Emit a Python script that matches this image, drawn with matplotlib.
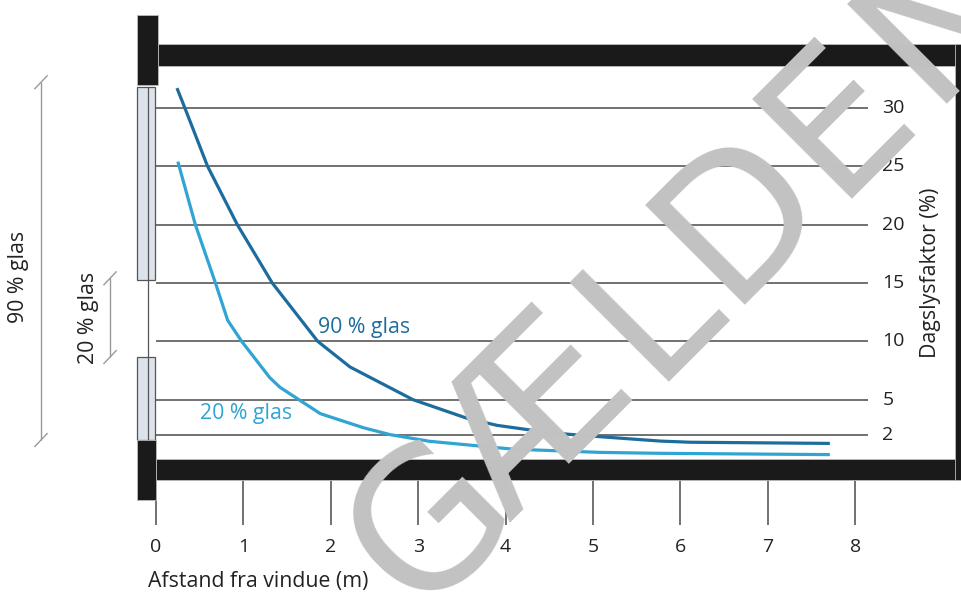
import matplotlib
matplotlib.use("Agg")
import matplotlib.pyplot as plt
from matplotlib.patches import Rectangle

plt.rcParams["font.family"] = ["Open Sans", "DejaVu Sans"]

# ---- data ------------------------------------------------------------------------
X_TICKS = [0, 1, 2, 3, 4, 5, 6, 7, 8]
Y_TICKS = [2, 5, 10, 15, 20, 25, 30]

# distance from window (m) and daylight factor (%)
X_90 = [0.24, 0.33, 0.59, 0.93, 1.33, 1.85, 2.22, 2.94, 3.56, 3.90, 4.47, 4.85,
        5.77, 6.11, 7.71]
DF_90 = [31.7, 30.0, 25.0, 20.0, 15.0, 10.0, 7.8, 5.0, 3.4, 2.8, 2.2, 1.95,
         1.45, 1.35, 1.25]
X_20 = [0.25, 0.45, 0.68, 0.82, 0.98, 1.30, 1.42, 1.88, 2.37, 2.68, 3.13, 4.08,
        5.08, 5.77, 7.71]
DF_20 = [25.4, 20.0, 15.0, 11.8, 10.0, 6.9, 6.05, 3.8, 2.6, 2.0, 1.43, 0.76,
         0.48, 0.4, 0.29]

C90, C20 = "#1c6d9e", "#30a4d2"
BLACK = "#1b1a1a"
GLASS = "#dce3ea"
TXT = "#222222"
FS, FS_TICK = 15.3, 14

fig = plt.figure(figsize=(9.62, 5.93), dpi=100)
ax = fig.add_axes([0, 0, 1, 1])
ax.set_xlim(-1.785, 9.222)
ax.set_ylim(-11.57, 39.25)
ax.axis("off")

# gridlines + right-hand labels
ax.hlines(Y_TICKS, 0, 8.15, color="#4a4a4a", lw=1.1, zorder=1)
for v in Y_TICKS:
    ax.text(8.31, v, str(v), ha="left", va="center", fontsize=FS_TICK, color=TXT)
ax.text(8.86, 15.9, "Dagslysfaktor (%)", rotation=90, ha="center", va="center",
        fontsize=FS, color=TXT)

# x ticks below the floor
ax.vlines(X_TICKS, -5.74, -1.8, color="#4a4a4a", lw=1.1, zorder=1)
for v in X_TICKS:
    ax.text(v, -7.65, str(v), ha="center", va="center", fontsize=FS_TICK, color=TXT)
ax.text(-0.09, -10.6, "Afstand fra vindue (m)", ha="left", va="center", fontsize=FS,
        color=TXT)

# room section: ceiling, floor, walls
def block(x0, x1, y0, y1):
    ax.add_patch(Rectangle((x0, y0), x1 - x0, y1 - y0, facecolor=BLACK,
                           edgecolor="#bbbbbb", lw=0.6, zorder=4))

block(0.02, 9.6, 33.6, 35.5)      # ceiling slab
block(-0.22, 0.02, 32.0, 38.0)    # wall above window
block(0.0, 9.6, -1.9, -0.09)      # floor slab
block(-0.22, 0.0, -3.6, 1.5)      # wall below window
block(9.14, 9.6, -1.9, 35.5)      # right wall

# window panes
for y0, y1 in [(15.25, 31.8), (1.54, 8.65)]:
    ax.add_patch(Rectangle((-0.215, y0), 0.205, y1 - y0, facecolor=GLASS,
                           edgecolor="#555555", lw=0.9, zorder=3))
ax.vlines(-0.09, 1.54, 31.8, color="#555555", lw=0.9, zorder=3)

# dimension lines for the glazed height
def dim(x, y0, y1):
    ax.vlines(x, y0, y1, color="#999999", lw=1.0)
    for y in (y0, y1):
        ax.plot([x - 0.07, x + 0.07], [y - 0.55, y + 0.55], color="#999999", lw=1.0)

dim(-1.316, 1.54, 32.2)
dim(-0.526, 8.65, 15.4)
ax.text(-1.579, 15.5, "90 % glas", rotation=90, ha="center", va="center", fontsize=FS,
        color=TXT)
ax.text(-0.778, 12.0, "20 % glas", rotation=90, ha="center", va="center", fontsize=FS,
        color=TXT)

# daylight factor curves
ax.plot(X_90, DF_90, color=C90, lw=2.3, solid_capstyle="butt", zorder=2)
ax.plot(X_20, DF_20, color=C20, lw=2.3, solid_capstyle="butt", zorder=2)
ax.text(1.85, 11.2, "90 % glas", ha="left", va="center", fontsize=FS, color=C90)
ax.text(0.5, 3.8, "20 % glas", ha="left", va="center", fontsize=FS, color=C20)

# diagonal watermark, letter by letter along a 45 degree baseline (pixel units)
W, H = 962, 593
BASE = 1032                     # baseline: x + y = BASE in image pixels
LETTERS = "GÆLDENDE"
OFFSETS = [-140, -10, 190, 298, 449, 583, 720, 870]   # ink-left along the baseline
for ch, s in zip(LETTERS, OFFSETS):
    px = (BASE + 1.4142 * s) / 2
    py = (BASE - 1.4142 * s) / 2
    fig.text(px / W, 1 - py / H, ch, rotation=45, rotation_mode="anchor",
             ha="left", va="baseline", fontsize=138, color="#c2c2c2", zorder=10,
             family="DejaVu Sans")

fig.savefig("out.png", dpi=100)
